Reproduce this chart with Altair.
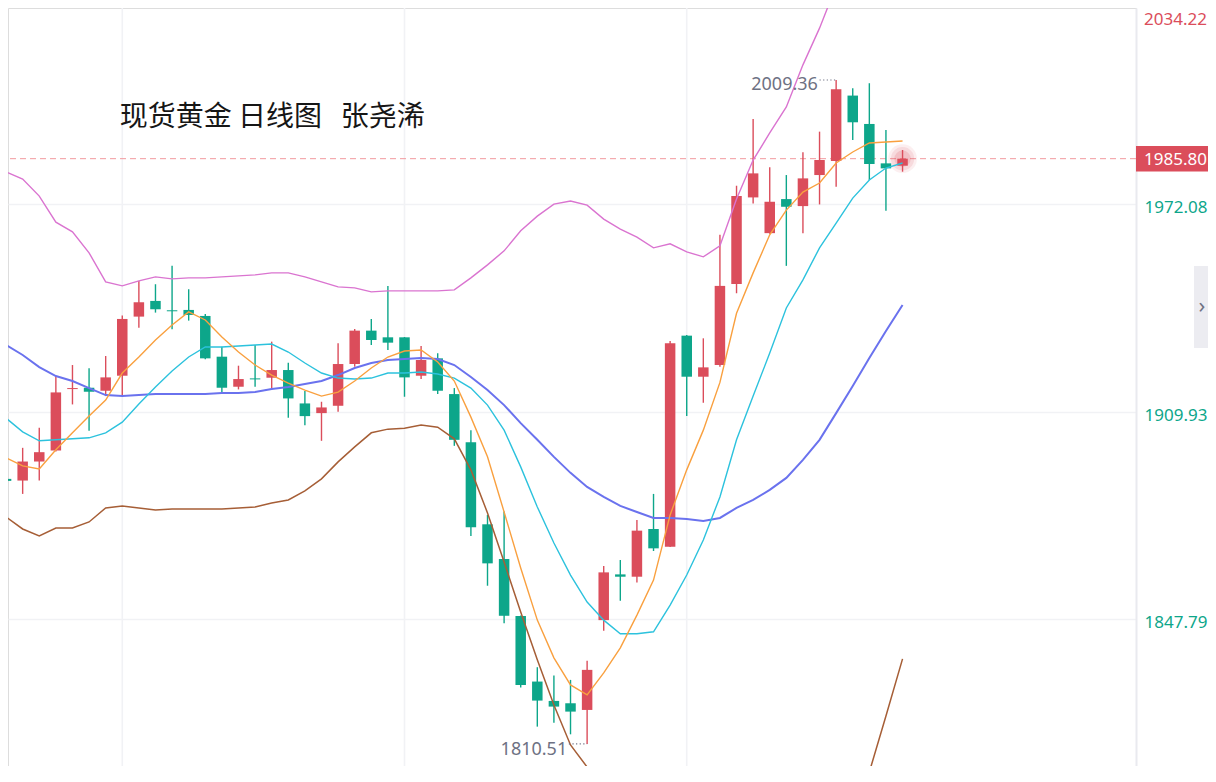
import altair as alt
import pandas as pd

# ---------------- data ----------------
opens = [1889.9, 1889.4, 1895.1, 1898.4, 1916.8, 1917.2, 1916.3, 1920.8, 1938.5, 1943.2,
         1940.4, 1940.5, 1938.7, 1926.5, 1917.5, 1920.0, 1920.2, 1922.5, 1912.5, 1909.6,
         1911.8, 1924.3, 1934.3, 1932.3, 1932.3, 1920.8, 1926.0, 1915.3, 1900.9, 1876.3,
         1865.9, 1848.8, 1829.2, 1823.4, 1822.7, 1820.7, 1847.6, 1861.3, 1860.6, 1874.9,
         1869.6, 1932.8, 1920.5, 1924.0, 1948.3, 1974.2, 1963.5, 1973.7, 1971.6, 1980.9,
         1985.1, 2004.7, 1996.2, 1984.4, 1983.7]
highs = [1897.4, 1899.2, 1905.2, 1920.7, 1924.0, 1923.0, 1926.7, 1938.8, 1949.2, 1948.2,
         1953.7, 1946.7, 1939.3, 1929.5, 1923.8, 1930.0, 1931.0, 1924.7, 1916.2, 1913.0,
         1930.5, 1934.8, 1937.8, 1947.7, 1932.4, 1929.7, 1927.5, 1917.1, 1904.5, 1879.1,
         1880.1, 1849.0, 1833.5, 1831.0, 1829.7, 1835.4, 1863.8, 1865.6, 1877.6, 1885.4,
         1931.2, 1933.0, 1932.0, 1963.0, 1977.7, 1997.7, 1983.2, 1980.9, 1987.7, 1993.9,
         2009.36, 2006.9, 2008.4, 1994.4, 1988.4]
lows = [1887.5, 1885.4, 1889.4, 1898.1, 1912.2, 1904.3, 1914.7, 1914.8, 1935.2, 1939.7,
        1934.7, 1937.3, 1925.7, 1915.8, 1916.7, 1917.5, 1917.0, 1908.2, 1906.0, 1901.3,
        1910.0, 1923.5, 1930.0, 1928.5, 1914.5, 1919.8, 1915.3, 1899.8, 1872.8, 1857.9,
        1846.7, 1827.4, 1815.7, 1816.9, 1813.4, 1810.51, 1844.4, 1853.4, 1858.9, 1868.3,
        1869.5, 1908.7, 1912.7, 1923.5, 1945.5, 1972.4, 1963.3, 1953.7, 1963.5, 1972.1,
        1977.4, 1991.4, 1979.4, 1970.2, 1981.9]
closes = [1889.3, 1895.1, 1897.9, 1915.8, 1917.1, 1916.0, 1920.3, 1937.8, 1942.8, 1940.7,
          1940.1, 1939.0, 1926.0, 1917.2, 1919.8, 1919.7, 1922.5, 1914.0, 1908.7, 1911.3,
          1924.3, 1934.3, 1931.5, 1930.7, 1920.3, 1925.5, 1916.3, 1901.6, 1875.4, 1864.6,
          1848.9, 1828.2, 1823.5, 1821.7, 1820.2, 1832.7, 1861.9, 1860.6, 1874.4, 1869.1,
          1930.5, 1920.5, 1923.3, 1947.7, 1974.6, 1981.4, 1972.9, 1971.4, 1979.9, 1985.4,
          2006.6, 1996.7, 1984.2, 1982.9, 1985.80]

ma5 = [1896.2, 1893.8, 1892.9, 1898.6, 1903.7, 1908.7, 1913.5, 1921.6, 1926.4, 1931.5,
       1936.0, 1939.9, 1937.5, 1932.4, 1927.9, 1924.0, 1921.0, 1918.6, 1916.5, 1914.7,
       1915.9, 1919.2, 1923.1, 1926.4, 1928.2, 1928.5, 1924.9, 1919.2, 1908.4, 1896.5,
       1880.0, 1863.2, 1847.6, 1836.3, 1828.2, 1825.2, 1831.8, 1839.3, 1849.1, 1859.6,
       1879.1, 1892.6, 1904.5, 1918.8, 1939.5, 1951.6, 1963.0, 1970.4, 1975.8, 1978.5,
       1984.5, 1987.8, 1990.5, 1990.8, 1991.1]
ma10 = [1908.1, 1904.0, 1901.3, 1901.6, 1901.9, 1902.2, 1903.7, 1906.9, 1912.3, 1917.4,
        1922.2, 1926.4, 1929.4, 1929.4, 1929.7, 1930.0, 1930.3, 1927.9, 1924.6, 1921.6,
        1920.1, 1919.8, 1920.1, 1921.6, 1921.6, 1921.9, 1921.3, 1920.1, 1917.1, 1912.0,
        1904.5, 1893.5, 1881.5, 1870.7, 1861.1, 1853.0, 1847.6, 1843.5, 1843.5, 1844.1,
        1852.1, 1861.1, 1871.6, 1884.5, 1901.6, 1914.7, 1927.6, 1941.1, 1949.5, 1959.1,
        1966.5, 1974.0, 1979.4, 1983.0, 1984.5]
boll_mid = [1930.0, 1927.0, 1923.4, 1920.7, 1919.2, 1917.1, 1915.0, 1914.7, 1915.0, 1915.3,
            1915.3, 1915.3, 1915.3, 1915.6, 1915.6, 1915.9, 1916.8, 1917.4, 1918.3, 1919.2,
            1921.0, 1923.1, 1924.6, 1925.5, 1925.8, 1926.1, 1925.8, 1924.0, 1920.4, 1916.5,
            1912.0, 1906.6, 1901.6, 1896.5, 1891.7, 1887.5, 1884.5, 1881.8, 1880.0, 1878.2,
            1878.2, 1877.9, 1877.3, 1878.2, 1881.2, 1883.6, 1886.6, 1890.2, 1895.6, 1901.6,
            1909.6, 1917.7, 1926.1, 1934.2, 1942.0]
boll_up = [1981.8, 1979.7, 1974.6, 1966.8, 1963.9, 1957.6, 1948.9, 1947.7, 1949.2, 1950.4,
           1949.8, 1950.1, 1950.1, 1950.4, 1950.7, 1951.0, 1951.6, 1951.6, 1950.4, 1948.9,
           1947.4, 1947.1, 1945.9, 1946.2, 1946.2, 1946.2, 1946.2, 1946.5, 1950.1, 1954.0,
           1958.2, 1964.2, 1968.6, 1972.2, 1973.1, 1971.9, 1967.7, 1964.7, 1962.3, 1959.1,
           1960.3, 1957.9, 1956.4, 1959.7, 1973.7, 1985.4, 1993.5, 2001.3, 2013.9, 2024.9,
           2037.5]
boll_low_a = [1878.5, 1874.9, 1872.8, 1875.2, 1875.2, 1877.0, 1881.2, 1881.8, 1881.2, 1880.6,
              1880.9, 1880.9, 1880.9, 1880.9, 1881.2, 1881.5, 1882.7, 1883.6, 1886.3, 1889.9,
              1895.0, 1899.5, 1903.7, 1904.8, 1905.1, 1906.0, 1905.4, 1901.9, 1892.6, 1879.7,
              1865.0, 1850.0, 1835.7, 1822.2, 1810.2, 1803.6, 1801.2, 1798.5]
boll_low_b_start = 51
boll_low_b = [1785.3, 1802.1, 1818.9, 1836.0]

y_ticks = [1847.79, 1909.93, 1972.08]
top_tick = 2034.22
last_price = 1985.80
grid_idx = [7, 24, 41]
title_text = "现货黄金\u00a0日线图\u00a0\u00a0\u00a0张尧浠"

# ---------------- layout / style ----------------
PW, PH = 1128, 758
PAD_R = 72
X_DOMAIN = [0.418, 67.761]
Y_DOMAIN = [1803.91, 2030.93]
px_per_unit = PH / (Y_DOMAIN[1] - Y_DOMAIN[0])

RED = "#DB4D5B"
GREEN = "#0DA68A"
GRAY_TXT = "#6E7183"
FONT = "Noto Sans"
FS = 17
LPAD = 8

xs = alt.Scale(domain=X_DOMAIN, nice=False, zero=False)
ys = alt.Scale(domain=Y_DOMAIN, nice=False, zero=False)
yaxis = alt.Axis(orient="right", values=y_ticks, format=".2f", grid=True,
                 gridColor="#F1F2F5", gridWidth=1.6, ticks=False, domain=True,
                 domainColor="#E9EAEF", domainWidth=2, labelColor=GREEN, labelFont=FONT,
                 labelFontSize=FS, labelPadding=LPAD, labelOffset=3, labelFlush=False,
                 labelBound=False, title="")


def X(f):
    return alt.X(f, type="quantitative", scale=xs, axis=None)


def Y(f):
    return alt.Y(f, type="quantitative", scale=ys, axis=yaxis)


n = len(closes)
candles = pd.DataFrame({"i": list(range(n)), "open": opens, "high": highs,
                        "low": lows, "close": closes})
candles["dir"] = ["up" if c >= o else "down" for o, c in zip(opens, closes)]
col = alt.Color("dir:N", scale=alt.Scale(domain=["up", "down"], range=[RED, GREEN]), legend=None)

layers = []

# vertical grid lines
layers.append(alt.Chart(pd.DataFrame({"i": grid_idx})).mark_rule(
    color="#F1F2F5", strokeWidth=1.6).encode(x=X("i")))

# last price dashed line
price_df = pd.DataFrame({"i": [n - 1], "p": [last_price]})
layers.append(alt.Chart(price_df).mark_rule(
    color="#F29A9F", strokeWidth=1, strokeDash=[6, 4]).encode(y=Y("p")))

# glow around last candle
for sz, op in [(820, 0.09), (540, 0.13), (270, 0.18)]:
    layers.append(alt.Chart(price_df).mark_circle(size=sz, color=RED, opacity=op).encode(
        x=X("i"), y=Y("p")))

# candles
layers.append(alt.Chart(candles).mark_rule(strokeWidth=1.4, clip=True).encode(
    x=X("i"), y=Y("low"), y2="high", color=col))
layers.append(alt.Chart(candles).mark_bar(size=10.5, clip=True).encode(
    x=X("i"), y=Y("open"), y2="close", color=col))


def line_layer(vals, start, color, width):
    df = pd.DataFrame({"i": list(range(start, start + len(vals))), "v": vals})
    return alt.Chart(df).mark_line(color=color, strokeWidth=width, clip=True).encode(
        x=X("i"), y=Y("v"))


layers.append(line_layer(boll_up, 0, "#DA74D0", 1.4))
layers.append(line_layer(boll_low_a, 0, "#A65E36", 1.5))
layers.append(line_layer(boll_low_b, boll_low_b_start, "#A65E36", 1.5))
layers.append(line_layer(boll_mid, 0, "#6A72EE", 2))
layers.append(line_layer(ma10, 0, "#2CC2DD", 1.4))
layers.append(line_layer(ma5, 0, "#F9A03F", 1.4))

# high / low annotations
hi_i = highs.index(max(highs))
lo_i = lows.index(min(lows))
ann = pd.DataFrame({
    "x1": [hi_i - 1.0, lo_i - 1.1], "x2": [hi_i, lo_i],
    "xt": [hi_i - 1.1, lo_i - 1.2],
    "p": [max(highs), min(lows)],
    "t": [f"{max(highs):.2f}", f"{min(lows):.2f}"],
})
layers.append(alt.Chart(ann).mark_rule(color=GRAY_TXT, strokeWidth=1.2, strokeDash=[1.2, 2.4]).encode(
    x=X("x1"), x2="x2", y=Y("p")))
layers.append(alt.Chart(ann.iloc[[0]]).mark_text(align="right", baseline="middle", dy=5,
                                                 font=FONT, fontSize=18, color=GRAY_TXT).encode(
    x=X("xt"), y=Y("p"), text="t:N"))
layers.append(alt.Chart(ann.iloc[[1]]).mark_text(align="right", baseline="middle", dy=6,
                                                 font=FONT, fontSize=18, color=GRAY_TXT).encode(
    x=X("xt"), y=Y("p"), text="t:N"))

# title inside the plot
title_df = pd.DataFrame({"i": [6.85], "p": [1998.1], "t": [title_text]})
layers.append(alt.Chart(title_df).mark_text(align="left", baseline="middle",
                                            font="Noto Sans CJK SC", fontSize=28,
                                            color="#161616").encode(
    x=X("i"), y=Y("p"), text="t:N"))

# right-hand price tag
half = 12.8 / px_per_unit
tag_df = pd.DataFrame({"p": [last_price], "hi": [last_price + half], "lo": [last_price - half],
                       "t": [f"{last_price:.2f}"]})
layers.append(alt.Chart(tag_df).mark_rect(color=RED).encode(
    x=alt.value(PW), x2=alt.value(PW + PAD_R), y=Y("hi"), y2="lo"))
layers.append(alt.Chart(tag_df).mark_text(align="left", baseline="middle", dy=1, font=FONT,
                                          fontSize=FS, color="white").encode(
    x=alt.value(PW + LPAD), y=Y("p"), text="t:N"))

# top scale label (clamped to the top edge)
top_df = pd.DataFrame({"t": [f"{top_tick:.2f}"]})
layers.append(alt.Chart(top_df).mark_text(align="left", baseline="middle", font=FONT,
                                          fontSize=FS, color=RED).encode(
    x=alt.value(PW + LPAD), y=alt.value(12), text="t:N"))

# collapse tab on the right edge
tab_df = pd.DataFrame({"t": ["›"]})
layers.append(alt.Chart(tab_df).mark_rect(color="#ECECF1").encode(
    x=alt.value(PW + 58), x2=alt.value(PW + PAD_R), y=alt.value(258), y2=alt.value(340)))
layers.append(alt.Chart(tab_df).mark_text(align="center", baseline="middle", font=FONT,
                                          fontSize=22, color="#6F7282").encode(
    x=alt.value(PW + 66), y=alt.value(298), text="t:N"))

chart = alt.layer(*layers).properties(
    width=PW, height=PH,
    autosize=alt.AutoSizeParams(type="none"),
    padding={"left": 0, "top": 0, "right": PAD_R, "bottom": 0},
).configure_view(stroke=None).configure(background="white")

chart.save("out.html", embed_options={"renderer": "svg", "actions": False})
